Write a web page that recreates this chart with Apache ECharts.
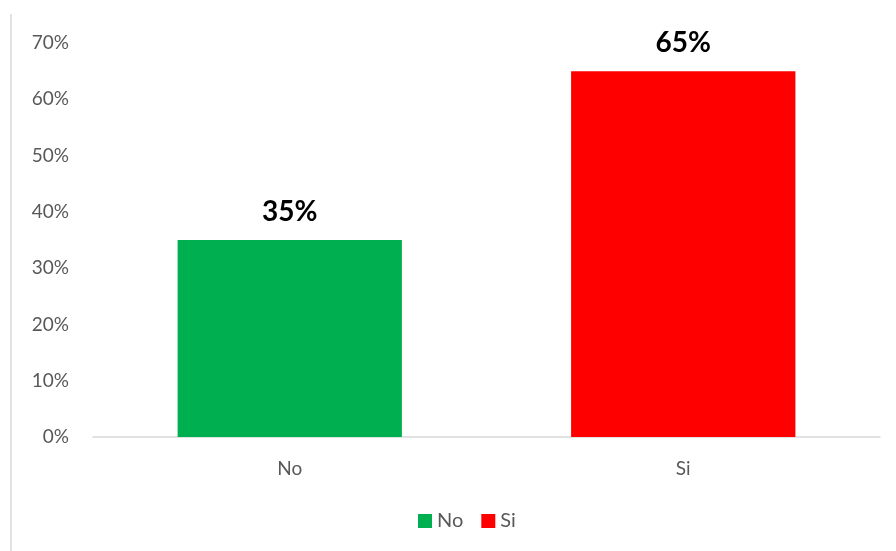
<!DOCTYPE html>
<html><head><meta charset="utf-8">
<script src="https://cdn.jsdelivr.net/npm/echarts@6/dist/echarts.min.js"></script>
<style>html,body{margin:0;padding:0;background:#fff}#c{width:896px;height:551px}</style>
</head><body><div id="c"></div>
<script>
const categories = ['No', 'Si'];
const noValues = [35, null];
const siValues = [null, 65];
const yTicks = [0, 10, 20, 30, 40, 50, 60, 70];
const colors = ['#00b050', '#ff0000'];

const chart = echarts.init(document.getElementById('c'));
const labelStyle = {show: true, position: 'top', distance: 14, formatter: p => p.value + '%',
  fontFamily: 'Lato', fontWeight: 'bold', fontSize: 28, color: '#000'};
chart.setOption({
  animation: false,
  textStyle: {fontFamily: 'Lato'},
  grid: {left: 93, right: 16, top: 43, bottom: 114},
  graphic: [{type: 'line', shape: {x1: 11, y1: 14, x2: 11, y2: 551}, style: {stroke: '#d9d9d9', lineWidth: 1.5}}],
  legend: {bottom: 15, left: 413, itemWidth: 14, itemHeight: 14, itemGap: 18,
    textStyle: {fontSize: 20, color: '#595959', fontFamily: 'Lato'},
    data: [{name: 'No', icon: 'rect'}, {name: 'Si', icon: 'rect'}]},
  xAxis: {type: 'category', data: categories,
    axisLine: {lineStyle: {color: '#d9d9d9', width: 1.5}}, axisTick: {show: false},
    axisLabel: {fontSize: 19, color: '#595959', margin: 22, fontFamily: 'Lato'}},
  yAxis: {type: 'value', min: yTicks[0], max: yTicks[yTicks.length - 1], interval: 10,
    axisLine: {show: false}, axisTick: {show: false}, splitLine: {show: false},
    axisLabel: {fontSize: 19, color: '#595959', margin: 24, formatter: v => v + '%', fontFamily: 'Lato'}},
  series: [
    {name: 'No', type: 'bar', stack: 't', data: noValues, barWidth: '57%', itemStyle: {color: colors[0]}, label: labelStyle},
    {name: 'Si', type: 'bar', stack: 't', data: siValues, barWidth: '57%', itemStyle: {color: colors[1]}, label: labelStyle}
  ]
});
</script></body></html>
